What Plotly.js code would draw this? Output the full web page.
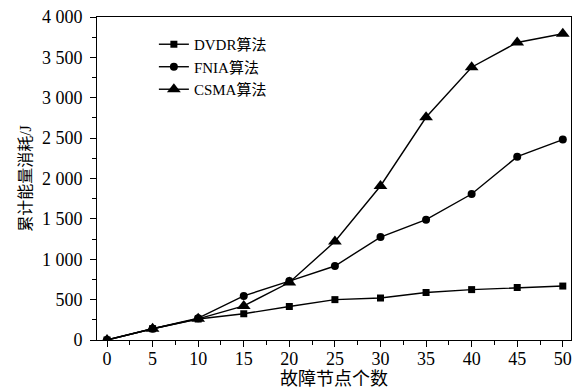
<!DOCTYPE html>
<html>
<head>
<meta charset="utf-8">
<script src="https://cdn.plot.ly/plotly-3.0.1.min.js"></script>
<style>html,body{margin:0;padding:0;background:#fff;}#chart{width:575px;height:390px;}</style>
</head>
<body>
<div id="chart"></div>
<script>
var xs = [0, 5, 10, 15, 20, 25, 30, 35, 40, 45, 50];
var dvdr = [0, 140, 260, 325, 415, 500, 520, 588, 624, 650, 668];
var fnia = [0, 140, 270, 546, 730, 916, 1274, 1490, 1808, 2270, 2482];
var csma = [0, 140, 262, 422, 712, 1220, 1907, 2758, 3378, 3685, 3793];
var seriesNames = ['DVDR算法', 'FNIA算法', 'CSMA算法'];
var yTickVals = [0, 500, 1000, 1500, 2000, 2500, 3000, 3500, 4000];
var yTickText = ['0', '500', '1 000', '1 500', '2 000', '2 500', '3 000', '3 500', '4 000'];
var xTickVals = [0, 5, 10, 15, 20, 25, 30, 35, 40, 45, 50];

var fontFam = '"Liberation Serif", "Times New Roman", "Noto Sans CJK SC", serif';
var line = {color: '#000', width: 1.4};
var traces = [
  {x: xs, y: dvdr, name: seriesNames[0], mode: 'lines+markers', line: line, marker: {symbol: 'square', size: 7, color: '#000'}},
  {x: xs, y: fnia, name: seriesNames[1], mode: 'lines+markers', line: line, marker: {symbol: 'circle', size: 8, color: '#000'}},
  {x: xs, y: csma, name: seriesNames[2], mode: 'lines+markers', line: line, marker: {symbol: 'triangle-up', size: 12, color: '#000'}}
];
var layout = {
  width: 575, height: 390,
  margin: {l: 97, r: 4, t: 17, b: 50},
  paper_bgcolor: '#fff', plot_bgcolor: '#fff',
  font: {family: fontFam, size: 18, color: '#000'},
  showlegend: true,
  legend: {x: 0.12, y: 0.966, xanchor: 'left', yanchor: 'top', bgcolor: 'rgba(0,0,0,0)', font: {size: 15, family: fontFam}, tracegroupgap: 0, itemwidth: 30},
  xaxis: {
    range: [-1.1, 50.9], tickvals: xTickVals, ticks: 'outside', ticklen: 6, tickwidth: 1, tickcolor: '#000',
    showline: true, linecolor: '#000', linewidth: 1, mirror: true, showgrid: false, zeroline: false,
    ticklabelstandoff: -4,
    minor: {dtick: 2.5, tick0: 0, ticks: 'outside', ticklen: 4, tickcolor: '#000', showgrid: false},
    title: {text: '故障节点个数', font: {size: 18, family: fontFam}, standoff: 0},
    tickfont: {size: 18, family: fontFam}
  },
  yaxis: {
    range: [0, 4000], tickvals: yTickVals, ticktext: yTickText, ticks: 'outside', ticklen: 6, tickwidth: 1, tickcolor: '#000',
    showline: true, linecolor: '#000', linewidth: 1, mirror: true, showgrid: false, zeroline: false,
    ticklabelstandoff: 4,
    minor: {dtick: 250, tick0: 0, ticks: 'outside', ticklen: 4, tickcolor: '#000', showgrid: false},
    title: {text: '累计能量消耗/J', font: {size: 16, family: fontFam}, standoff: 6},
    tickfont: {size: 18, family: fontFam}
  }
};
Plotly.newPlot('chart', traces, layout, {displayModeBar: false, staticPlot: true});
</script>
</body>
</html>
